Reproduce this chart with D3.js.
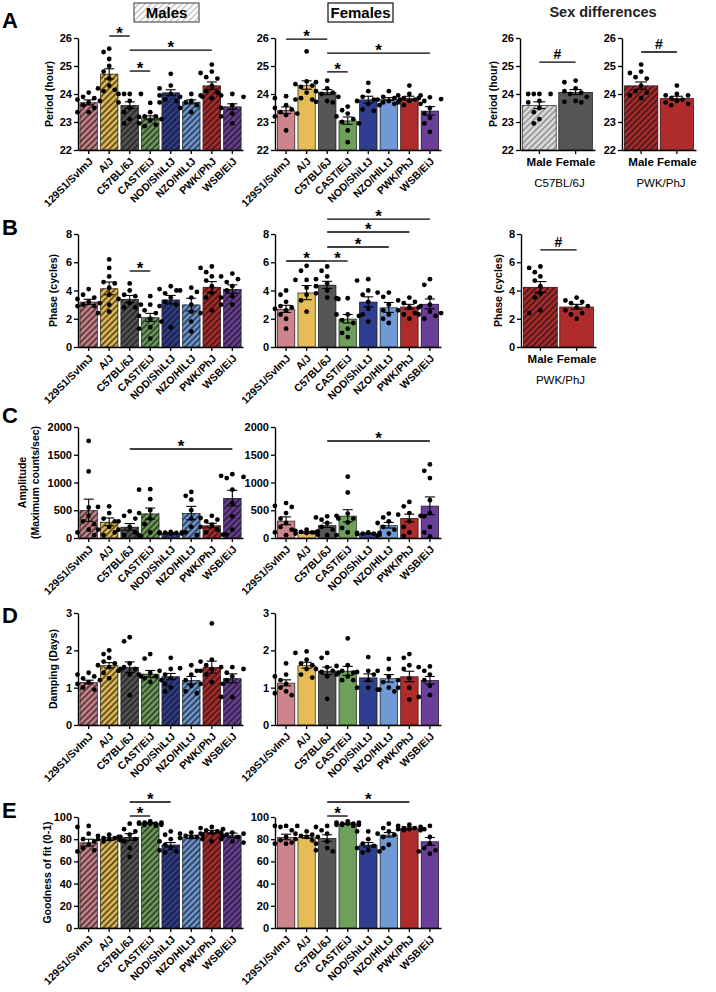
<!DOCTYPE html>
<html><head><meta charset="utf-8">
<script src="https://cdn.jsdelivr.net/npm/d3@7"></script>
<style>
body{margin:0;background:#fff}
text{font-family:"Liberation Sans",Arial,Helvetica,sans-serif}
</style>
</head><body>
<svg id="fig" width="716" height="992"></svg>
<script>
// ---------------- DATA ----------------
const strains = ["129S1/SvImJ","A/J","C57BL/6J","CAST/EiJ","NOD/ShiLtJ","NZO/HlLtJ","PWK/PhJ","WSB/EiJ"];
const strainColors = ["#cd858b","#e6bd55","#565656","#6da05b","#2f3e8e","#6f9ad6","#b02b2b","#6b3f98"];

// Period (hour)
const periodMaleMean = [23.7, 24.72, 23.6, 23.15, 24.05, 23.72, 24.3, 23.55];
const periodMaleSem  = [0.09, 0.18, 0.12, 0.07, 0.1, 0.07, 0.13, 0.1];
const periodMalePts = [
  [24.05,23.9,23.85,23.8,23.75,23.7,23.6,23.5,23.35,23.35],
  [25.62,25.5,25.25,25.0,24.8,24.55,24.3,24.15,24.1,24.2],
  [24.0,24.0,24.0,24.0,23.75,23.7,23.5,23.35,23.1,22.95],
  [23.68,23.35,23.2,23.2,23.18,23.1,23.05,22.95,22.9,22.85],
  [24.72,24.3,24.2,24.0,23.95,23.8,23.75,23.7],
  [24.0,23.9,23.9,23.75,23.7,23.6,23.5,23.35],
  [25.05,24.8,24.75,24.6,24.55,24.3,24.1,24.05,23.95,23.85],
  [24.0,23.95,23.9,23.6,23.5,23.3,23.2,22.95]
];
const periodFemaleMean = [23.42, 24.32, 24.07, 23.05, 23.8, 23.82, 23.85, 23.4];
const periodFemaleSem  = [0.12, 0.15, 0.09, 0.13, 0.12, 0.05, 0.07, 0.15];
const periodFemalePts = [
  [23.92,23.85,23.6,23.5,23.45,23.35,23.3,23.25,23.2,22.7],
  [25.52,24.45,24.35,24.3,24.25,24.05,23.85,23.8,23.8],
  [24.48,24.42,24.2,24.1,24.05,24.0,23.9,23.75,23.7,23.72],
  [23.55,23.42,23.3,23.2,23.1,23.0,22.95,22.7,22.28],
  [24.4,24.1,23.9,23.8,23.75,23.6,23.45,23.4,23.65],
  [24.1,23.9,23.85,23.8,23.8,23.75,23.7,23.65],
  [24.3,24.0,23.95,23.95,23.85,23.8,23.7,23.65,23.6,23.75],
  [23.88,23.85,23.82,23.75,23.5,23.3,23.15,22.95,22.65]
];
const periodMaleSig   = [[1,2,26.07,"*"],[2,6,25.57,"*"],[2,3,24.82,"*"]];
const periodFemaleSig = [[0,2,25.96,"*"],[2,7,25.46,"*"],[2,3,24.79,"*"]];
const periodTicks = [22,23,24,25,26];

// Phase (cycles)
const phaseMaleMean = [3.2, 4.15, 3.4, 2.1, 3.35, 3.0, 4.25, 4.1];
const phaseMaleSem  = [0.18, 0.45, 0.25, 0.28, 0.3, 0.45, 0.38, 0.3];
const phaseMalePts = [
  [4.1,3.7,3.5,3.4,3.2,3.1,3.0,2.9,2.9],
  [6.2,5.6,5.0,4.6,4.5,4.2,3.7,3.0,2.5,2.4],
  [4.5,4.0,3.7,3.6,3.4,3.1,3.0,2.8,2.8],
  [3.6,3.0,2.6,2.4,2.2,2.0,1.8,1.4,1.3,0.6],
  [4.3,4.1,4.0,3.8,3.5,3.2,3.0,2.9,1.4],
  [4.2,4.0,3.9,3.5,3.0,2.5,1.8,1.1],
  [5.7,5.6,5.3,5.0,4.7,4.3,3.8,3.5,2.6,2.4],
  [5.2,5.0,4.8,4.6,4.3,4.0,3.6,3.5,3.0,3.0]
];
const phaseFemaleMean = [2.7, 3.85, 4.4, 2.0, 3.2, 2.8, 2.85, 3.05];
const phaseFemaleSem  = [0.25, 0.5, 0.25, 0.3, 0.35, 0.35, 0.17, 0.35];
const phaseFemalePts = [
  [4.0,3.7,3.2,2.9,2.8,2.7,2.6,2.3,2.0,1.3],
  [5.75,5.4,4.75,4.75,4.2,3.7,3.3,2.5],
  [5.7,5.4,5.0,4.8,4.5,4.3,4.0,3.8,3.5,3.4],
  [3.45,3.45,2.3,2.3,2.2,1.9,1.7,1.3,1.0,0.7],
  [4.8,4.7,4.0,3.7,3.2,2.7,2.3,1.8],
  [3.85,3.85,3.55,3.0,2.6,2.3,2.0,1.7],
  [3.5,3.3,3.2,3.1,2.9,2.8,2.6,2.4,2.3,2.0],
  [4.8,4.4,3.5,3.0,2.8,2.5,2.3,2.2,2.0,2.4]
];
const phaseMaleSig   = [[2,3,5.38,"*"]];
const phaseFemaleSig = [[0,2,6.09,"*"],[2,3,6.09,"*"],[2,5,7.08,"*"],[2,6,8.14,"*"],[2,7,9.06,"*"]];
const phaseTicks = [0,2,4,6,8];

// Amplitude (maximum counts/sec)
const ampMaleMean = [500, 290, 200, 440, 90, 450, 225, 720];
const ampMaleSem  = [200, 70, 60, 100, 10, 120, 40, 140];
const ampMalePts = [
  [1750,1200,550,400,300,250,150,100,50],
  [570,560,450,350,300,200,150,100,50],
  [480,400,350,300,200,150,100,50,30],
  [880,870,700,500,450,350,250,100,50],
  [110,100,100,95,90,85,80,80],
  [830,760,690,500,350,200,100,50],
  [400,360,330,300,240,200,150,100,60],
  [1150,1120,1100,1080,870,630,390,150,60]
];
const ampFemaleMean = [310, 100, 230, 400, 80, 230, 360, 580];
const ampFemaleSem  = [70, 15, 40, 110, 10, 50, 70, 160];
const ampFemalePts = [
  [630,580,560,450,350,270,200,150,100,50],
  [150,130,120,110,100,90,80,60],
  [390,370,350,330,270,200,150,100,50],
  [1105,820,440,400,350,280,180,100,50],
  [100,90,90,80,80,70,60],
  [440,370,300,270,200,150,80,40],
  [650,570,450,420,400,300,200,100,40],
  [1325,1210,1080,680,450,390,200,100,30]
];
const ampMaleSig   = [[2,7,1604,"*"]];
const ampFemaleSig = [[2,7,1748,"*"]];
const ampTicks = [0,500,1000,1500,2000];

// Damping (days)
const dampMaleMean = [1.15, 1.6, 1.55, 1.37, 1.3, 1.2, 1.55, 1.25];
const dampMaleSem  = [0.05, 0.07, 0.14, 0.09, 0.08, 0.1, 0.16, 0.12];
const dampMalePts = [
  [1.4,1.35,1.3,1.25,1.2,1.15,1.1,1.0,0.95],
  [2.0,1.9,1.8,1.7,1.65,1.6,1.55,1.5,1.4,1.25],
  [2.35,2.24,1.65,1.55,1.5,1.45,1.35,1.3,0.8],
  [1.9,1.78,1.4,1.35,1.3,1.25,1.2,1.15],
  [1.8,1.5,1.45,1.35,1.25,1.1,1.0,0.9],
  [1.6,1.52,1.45,1.35,1.2,1.05,0.85,0.9],
  [2.72,1.75,1.7,1.6,1.5,1.45,1.35,1.15,1.1,1.1],
  [1.55,1.55,1.5,1.4,1.3,1.2,0.75,0.75]
];
const dampFemaleMean = [1.13, 1.6, 1.45, 1.45, 1.27, 1.25, 1.3, 1.2];
const dampFemaleSem  = [0.08, 0.08, 0.1, 0.12, 0.1, 0.1, 0.14, 0.1];
const dampFemalePts = [
  [1.65,1.35,1.3,1.2,1.1,1.0,0.9,0.85,0.8],
  [1.97,1.93,1.75,1.65,1.6,1.5,1.35,1.27],
  [1.93,1.8,1.55,1.5,1.45,1.42,1.4,1.3,0.7],
  [2.32,1.6,1.58,1.45,1.4,1.35,1.3,1.2,1.2],
  [1.82,1.45,1.42,1.35,1.2,1.0,1.0,0.95],
  [1.77,1.5,1.45,1.3,1.15,1.0,0.9,0.95],
  [1.9,1.8,1.6,1.5,1.25,1.2,1.0,1.0,0.68],
  [1.57,1.55,1.45,1.35,1.2,1.05,0.8,0.75]
];
const dampTicks = [0,1,2,3];

// Goodness of fit (0-1)
const goodMaleMean = [77, 80, 82, 94.5, 75, 82, 86.5, 83.5];
const goodMaleSem  = [3, 1.2, 3, 0.5, 2, 1.5, 1.5, 2];
const goodMalePts = [
  [92,91,85,80,78,75,72,70,69],
  [84,83,82,81,81,80,80,79,78],
  [94,89,87,84,82,80,78,72,64],
  [96,95,95,95,94,94,94,93,93,92],
  [87,84,80,78,75,72,70,69,68],
  [86,85,84,83,82,82,81,80],
  [91,90,89,88,87,86,85,83,78],
  [86,86,85,84,82,80,78,77]
];
const goodFemaleMean = [82, 82, 81, 94, 75, 84, 90, 78];
const goodFemaleSem  = [2.5, 1.2, 3, 0.5, 2, 2, 1, 3.5];
const goodFemalePts = [
  [92,92,92,91,88,82,79,77,76,76],
  [87,85,84,83,82,82,80,79],
  [92,91,88,85,78,76,72,70,69],
  [96,95,95,94,94,94,93,93,93,92],
  [87,87,80,76,74,72,70,69,68],
  [94,90,87,85,84,82,75,72],
  [93,92,91,90,90,89,89,88,88],
  [92,89,82,76,72,70,69,67]
];
const goodMaleSig   = [[2,3,100.9,"*"],[2,4,113.5,"*"]];
const goodFemaleSig = [[2,3,100.9,"*"],[2,6,113.5,"*"]];
const goodTicks = [0,20,40,60,80,100];

// Sex differences
const sexCats = ["Male","Female"];
const sexPeriodC57Sig = [[0,1,25.14,"#"]];
const sexPeriodPwkSig = [[0,1,25.5,"#"]];
const sexPhasePwkSig  = [[0,1,6.87,"#"]];

// ---------------- DRAWING ----------------
const svg = d3.select("#fig");
svg.append("rect").attr("width",716).attr("height",992).attr("fill","#fff");
const defs = svg.append("defs");
function makeHatch(id, stroke, width, gap, bg){
  const p = defs.append("pattern").attr("id",id).attr("patternUnits","userSpaceOnUse")
    .attr("width",gap).attr("height",gap).attr("patternTransform","rotate(45)");
  if (bg) p.append("rect").attr("width",gap).attr("height",gap).attr("fill",bg);
  p.append("line").attr("x1",gap/2).attr("x2",gap/2).attr("y1",0).attr("y2",gap)
    .attr("stroke",stroke).attr("stroke-width",width);
}
makeHatch("hatch","rgba(15,15,15,0.72)",1.7,4.3,null);
makeHatch("hatchLight","#8c8c8c",1.6,4.3,"#dedede");
makeHatch("hatchTitle","#b8b8b8",1.2,4.3,"#ffffff");

const FONT = '"Liberation Sans",Arial,Helvetica,sans-serif';

function swarm(vals, y, cx, r, maxOff){
  const order = vals.map((v,i)=>i).sort((a,b)=>vals[b]-vals[a]);
  const placed = [];
  const out = new Array(vals.length);
  const sep = 2*r + 1.6;
  const step = 2*r + 0.8;
  const cands = [0,-1,1,-2,2];
  order.forEach(i=>{
    const py = y(vals[i]);
    let best = null, bestOv = Infinity;
    for (const k of cands){
      const px = cx + k*step;
      if (Math.abs(px-cx) > maxOff) continue;
      let ov = 0;
      placed.forEach(q=>{ const d = Math.hypot(q[0]-px,q[1]-py); if (d < sep) ov += sep-d; });
      if (ov === 0){ best = px; break; }
      if (ov < bestOv){ bestOv = ov; best = px; }
    }
    placed.push([best,py]);
    out[i] = [best,py];
  });
  return out;
}

function chart(o){
  const g = svg.append("g");
  const x = d3.scaleBand().domain(o.cats).range([o.x0,o.x1]).paddingInner(o.padIn).paddingOuter(o.padOut);
  const y = d3.scaleLinear().domain(o.domain).range([o.yb,o.yt]);
  const bw = x.bandwidth();
  o.cats.forEach((c,i)=>{
    const bx = x(c), top = y(o.means[i]), h = o.yb - top;
    g.append("rect").attr("x",bx).attr("y",top).attr("width",bw).attr("height",h).attr("fill",o.colors[i]);
    if (o.hatch[i]) g.append("rect").attr("x",bx).attr("y",top).attr("width",bw).attr("height",h).attr("fill","url(#"+o.hatch[i]+")");
    g.append("rect").attr("x",bx+0.4).attr("y",top+0.4).attr("width",bw-0.8).attr("height",h-0.4)
      .attr("fill","none").attr("stroke","#2a2a2a").attr("stroke-width",0.8).attr("stroke-opacity",0.85);
  });
  // error bars
  o.cats.forEach((c,i)=>{
    const cx = x(c)+bw/2, cap = o.cap;
    const hi = y(o.means[i]+o.sems[i]), lo = y(o.means[i]-o.sems[i]);
    g.append("line").attr("x1",cx).attr("x2",cx).attr("y1",hi).attr("y2",lo).attr("stroke","#000").attr("stroke-width",1.1);
    g.append("line").attr("x1",cx-cap/2).attr("x2",cx+cap/2).attr("y1",hi).attr("y2",hi).attr("stroke","#000").attr("stroke-width",1.1);
    g.append("line").attr("x1",cx-cap/2).attr("x2",cx+cap/2).attr("y1",lo).attr("y2",lo).attr("stroke","#000").attr("stroke-width",1.1);
  });
  // dots
  o.cats.forEach((c,i)=>{
    const cx = x(c)+bw/2;
    const pos = swarm(o.pts[i], y, cx, o.r, bw/2+2.5);
    pos.forEach(p=>g.append("circle").attr("cx",p[0]).attr("cy",p[1]).attr("r",o.r).attr("fill","#000"));
  });
  // y axis
  const ya = g.append("g").attr("transform",`translate(${o.x0},0)`)
    .call(d3.axisLeft(y).tickValues(o.ticks).tickFormat(d3.format("d")).tickSize(4).tickSizeOuter(0).tickPadding(2));
  ya.select(".domain").attr("stroke","#000").attr("stroke-width",1.4);
  ya.selectAll(".tick line").attr("stroke","#000").attr("stroke-width",1.3);
  ya.selectAll(".tick text").attr("font-family",FONT).attr("font-weight","bold").attr("font-size",11).attr("fill","#000");
  // x axis
  const xa = g.append("g").attr("transform",`translate(0,${o.yb})`)
    .call(d3.axisBottom(x).tickSize(4).tickSizeOuter(0));
  xa.select(".domain").attr("stroke","#000").attr("stroke-width",1.4);
  xa.selectAll(".tick line").attr("stroke","#000").attr("stroke-width",1.3);
  if (o.rotate){
    xa.selectAll(".tick text").attr("y",0).attr("dy",0).attr("text-anchor","end")
      .attr("transform","translate(5,12) rotate(-45)")
      .attr("font-family",FONT).attr("font-weight","bold").attr("font-size",10.5).attr("fill","#000");
  } else {
    xa.selectAll(".tick text").attr("y",8).attr("dy","0.71em")
      .attr("font-family",FONT).attr("font-weight","bold").attr("font-size",11.5).attr("fill","#000");
  }
  if (o.group){
    g.append("text").attr("x",(o.x0+o.x1)/2+2).attr("y",o.yb+37).attr("text-anchor","middle")
      .attr("font-size",11.5).attr("fill","#000").text(o.group);
  }
  // y title
  if (o.ytitle){
    o.ytitle.forEach((t,k)=>{
      g.append("text").attr("transform",`translate(${o.ytx[k]},${(o.yt+o.yb)/2}) rotate(-90)`)
        .attr("text-anchor","middle").attr("dominant-baseline","central")
        .attr("font-weight","bold").attr("font-size",10.5).attr("fill","#000").text(t);
    });
  }
  // significance
  (o.sig||[]).forEach(s=>{
    const xa1 = x(o.cats[s[0]])+bw/2, xb = x(o.cats[s[1]])+bw/2, yy = y(s[2]);
    g.append("line").attr("x1",xa1).attr("x2",xb).attr("y1",yy).attr("y2",yy).attr("stroke","#000").attr("stroke-width",1.3);
    if (s[3]==="*"){
      g.append("text").attr("x",(xa1+xb)/2).attr("y",yy+3).attr("text-anchor","middle")
        .attr("font-weight","bold").attr("font-size",17).attr("fill","#000").text("*");
    } else {
      g.append("text").attr("x",(xa1+xb)/2).attr("y",yy-3).attr("text-anchor","middle")
        .attr("font-weight","bold").attr("font-size",14).attr("fill","#000").text(s[3]);
    }
  });
}

const maleHatch = strains.map(()=> "hatch");
const noHatch = strains.map(()=> null);
const rows = [
  {yt:38, yb:150, domain:[22,26], ticks:periodTicks, title:["Period (hour)"], ytx:[49],
   m:[periodMaleMean,periodMaleSem,periodMalePts,periodMaleSig], f:[periodFemaleMean,periodFemaleSem,periodFemalePts,periodFemaleSig]},
  {yt:234, yb:347, domain:[0,8], ticks:phaseTicks, title:["Phase (cycles)"], ytx:[53],
   m:[phaseMaleMean,phaseMaleSem,phaseMalePts,phaseMaleSig], f:[phaseFemaleMean,phaseFemaleSem,phaseFemalePts,phaseFemaleSig]},
  {yt:427, yb:538, domain:[0,2000], ticks:ampTicks, title:["Amplitude","(Maximum counts/sec)"], ytx:[22,35],
   m:[ampMaleMean,ampMaleSem,ampMalePts,ampMaleSig], f:[ampFemaleMean,ampFemaleSem,ampFemalePts,ampFemaleSig]},
  {yt:613, yb:725, domain:[0,3], ticks:dampTicks, title:["Damping (Days)"], ytx:[53],
   m:[dampMaleMean,dampMaleSem,dampMalePts,null], f:[dampFemaleMean,dampFemaleSem,dampFemalePts,null]},
  {yt:817, yb:928, domain:[0,100], ticks:goodTicks, title:["Goodness of fit (0-1)"], ytx:[47],
   m:[goodMaleMean,goodMaleSem,goodMalePts,goodMaleSig], f:[goodFemaleMean,goodFemaleSem,goodFemalePts,goodFemaleSig]}
];
rows.forEach(rw=>{
  chart({cats:strains, x0:78, x1:243, padIn:0.12, padOut:0.08, yt:rw.yt, yb:rw.yb, domain:rw.domain, ticks:rw.ticks,
    colors:strainColors, hatch:maleHatch, means:rw.m[0], sems:rw.m[1], pts:rw.m[2], sig:rw.m[3], r:2.4, cap:10,
    rotate:true, ytitle:rw.title, ytx:rw.ytx});
  chart({cats:strains, x0:275, x1:441, padIn:0.12, padOut:0.1, yt:rw.yt, yb:rw.yb, domain:rw.domain, ticks:rw.ticks,
    colors:strainColors, hatch:noHatch, means:rw.f[0], sems:rw.f[1], pts:rw.f[2], sig:rw.f[3], r:2.4, cap:10,
    rotate:true});
});

// Sex differences panels
const C57 = 2, PWK = 6;
chart({cats:sexCats, x0:520, x1:595, padIn:0.05, padOut:0.06, yt:38, yb:150, domain:[22,26], ticks:periodTicks,
  colors:["#dedede",strainColors[C57]], hatch:["hatchLight",null],
  means:[periodMaleMean[C57],periodFemaleMean[C57]], sems:[periodMaleSem[C57],periodFemaleSem[C57]],
  pts:[periodMalePts[C57],periodFemalePts[C57]], sig:sexPeriodC57Sig, r:2.4, cap:12, rotate:false,
  group:"C57BL/6J", ytitle:["Period (hour)"], ytx:[493]});
chart({cats:sexCats, x0:622, x1:696, padIn:0.05, padOut:0.06, yt:38, yb:150, domain:[22,26], ticks:periodTicks,
  colors:[strainColors[PWK],strainColors[PWK]], hatch:["hatch",null],
  means:[periodMaleMean[PWK],periodFemaleMean[PWK]], sems:[periodMaleSem[PWK],periodFemaleSem[PWK]],
  pts:[periodMalePts[PWK],periodFemalePts[PWK]], sig:sexPeriodPwkSig, r:2.4, cap:12, rotate:false,
  group:"PWK/PhJ"});
chart({cats:sexCats, x0:521, x1:596, padIn:0.05, padOut:0.06, yt:234, yb:347, domain:[0,8], ticks:phaseTicks,
  colors:[strainColors[PWK],strainColors[PWK]], hatch:["hatch",null],
  means:[phaseMaleMean[PWK],phaseFemaleMean[PWK]], sems:[phaseMaleSem[PWK],phaseFemaleSem[PWK]],
  pts:[phaseMalePts[PWK],phaseFemalePts[PWK]], sig:sexPhasePwkSig, r:2.4, cap:12, rotate:false,
  group:"PWK/PhJ", ytitle:["Phase (cycles)"], ytx:[498]});

// Titles
svg.append("rect").attr("x",134).attr("y",3).attr("width",65).attr("height",19)
  .attr("fill","url(#hatchTitle)").attr("stroke","#555").attr("stroke-width",1.2);
svg.append("text").attr("x",166.5).attr("y",18).attr("text-anchor","middle").attr("font-weight","bold")
  .attr("font-size",15).attr("fill","#000").text("Males");
svg.append("rect").attr("x",328).attr("y",3).attr("width",65).attr("height",19)
  .attr("fill","#fff").attr("stroke","#222").attr("stroke-width",1.3);
svg.append("text").attr("x",360.5).attr("y",18).attr("text-anchor","middle").attr("font-weight","bold")
  .attr("font-size",15).attr("fill","#000").text("Females");
svg.append("text").attr("x",603).attr("y",17).attr("text-anchor","middle").attr("font-weight","bold")
  .attr("font-size",14.5).attr("fill","#222").text("Sex differences");

// Panel letters
const panelLetters = ["A","B","C","D","E"];
const letterY = [28,235,423,623,818];
panelLetters.forEach((t,i)=>svg.append("text").attr("x",2).attr("y",letterY[i]).attr("font-weight","bold")
  .attr("font-size",22).attr("fill","#000").text(t));
</script>
</body></html>
